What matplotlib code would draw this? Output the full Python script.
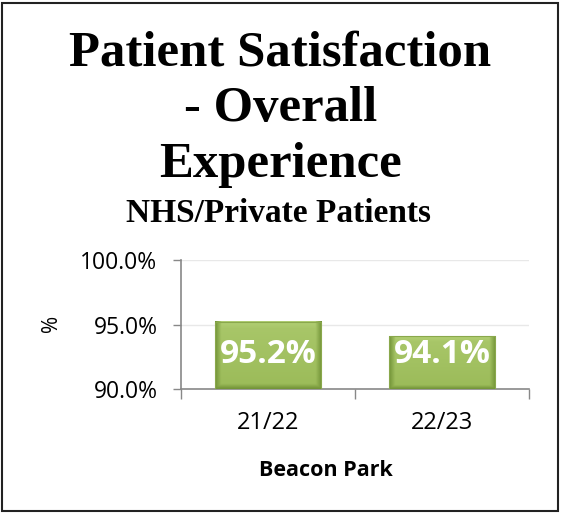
import matplotlib
matplotlib.use("Agg")
import matplotlib.pyplot as plt
from matplotlib.patches import Rectangle
import numpy as np

categories = ["21/22", "22/23"]
values = [95.2, 94.1]
value_labels = ["95.2%", "94.1%"]
y_ticks = [90.0, 95.0, 100.0]
y_tick_labels = ["90.0%", "95.0%", "100.0%"]

title_lines = ["Patient Satisfaction", "- Overall", "Experience"]
subtitle = "NHS/Private Patients"
x_title = "Beacon Park"
y_title = "%"

W, H = 561, 513
fig = plt.figure(figsize=(W / 100, H / 100), dpi=100)
fig.patch.set_facecolor("white")

# outer frame
fig.patches.append(Rectangle((2 / W, 2 / H), (W - 5) / W, (H - 5) / H,
                             transform=fig.transFigure, fill=False,
                             edgecolor="#222222", linewidth=1.5))

serif = ["Liberation Serif", "DejaVu Serif"]
sans = ["Open Sans", "DejaVu Sans"]
for line, base in zip(title_lines, [65, 121, 177]):
    fig.text(0.5, 1 - base / H, line, ha="center", va="baseline",
             fontsize=36.5, fontweight="bold", family=serif)
fig.text(278 / W, 1 - 222 / H, subtitle, ha="center", va="baseline",
         fontsize=24, fontweight="bold", family=serif)

ax = fig.add_axes([181 / W, 1 - 389 / H, 348 / W, 129 / H])
x = np.arange(len(categories))
bars = ax.bar(x, [v - 90 for v in values], bottom=90, width=0.61,
              color="#9bbb59", edgecolor="none", zorder=3)


def bevel_image(nx=120, ny=60):
    """Shaded fill for a bevelled bar: light face, darker rims."""
    u = np.linspace(0, 1, nx)[None, :]
    v = np.linspace(0, 1, ny)[:, None]  # 0 = top row
    base = np.array([0.608, 0.733, 0.349])
    light = np.array([0.72, 0.83, 0.48])
    dark = np.array([0.45, 0.58, 0.22])
    face = np.ones((ny, nx, 3)) * base
    # vertical gradient: lighter towards the top
    t = (1 - v)[..., None] * 0.5
    face = face * (1 - t) + light * t
    # rims
    edge = np.minimum(np.minimum(u, 1 - u) * 18, 1)
    top = np.minimum(v * 10, 1)
    bot = np.minimum((1 - v) * 14, 1)
    rim = np.minimum(np.minimum(edge, bot), 1)[..., None]
    face = face * rim + dark * (1 - rim)
    hi = (1 - np.minimum(top, 1))[..., None] * (edge[..., None] > 0.99)
    face = face * (1 - hi * 0.6) + light * hi * 0.6
    return np.clip(face, 0, 1)


img = bevel_image()
for b in bars:
    x0, w = b.get_x(), b.get_width()
    y0, h = b.get_y(), b.get_height()
    ax.imshow(img, extent=(x0, x0 + w, y0, y0 + h), aspect="auto",
              zorder=3.5, interpolation="bilinear")
    ax.add_patch(Rectangle((x0, y0), w, h, fill=False,
                           edgecolor="#8aa84c", linewidth=0.8, zorder=4))

for xi, lab in zip(x, value_labels):
    ax.text(xi, 92.65, lab, ha="center", va="center", color="white",
            fontsize=24, fontweight="bold", family=sans, zorder=5)

ax.set_xlim(-0.5, 1.5)
ax.set_ylim(90, 100)
ax.set_yticks(y_ticks)
ax.set_yticklabels(y_tick_labels, family=sans, fontsize=16.5)
ax.yaxis.grid(True, color="#e8e8e8", linewidth=1, zorder=0)
ax.set_axisbelow(True)

ax.set_xticks([-0.5, 0.5, 1.5])
ax.set_xticklabels([])
ax.set_xticks(x, minor=True)
ax.set_xticklabels(categories, minor=True, family=sans, fontsize=17)
ax.tick_params(axis="x", which="major", length=7, color="#888888", width=1)
ax.tick_params(axis="x", which="minor", length=0, pad=16)
ax.tick_params(axis="y", length=6, color="#888888", width=1, pad=11)

for s in ["top", "right"]:
    ax.spines[s].set_visible(False)
for s in ["left", "bottom"]:
    ax.spines[s].set_color("#888888")
    ax.spines[s].set_linewidth(1.2)

fig.text(326 / W, 1 - 470 / H, x_title, ha="center", va="center",
         fontsize=15.5, fontweight="bold", family=sans)
fig.text(52 / W, 1 - 323 / H, y_title, rotation=90, ha="center", va="center",
         fontsize=15, family=sans)

fig.savefig("out.png", dpi=100)
